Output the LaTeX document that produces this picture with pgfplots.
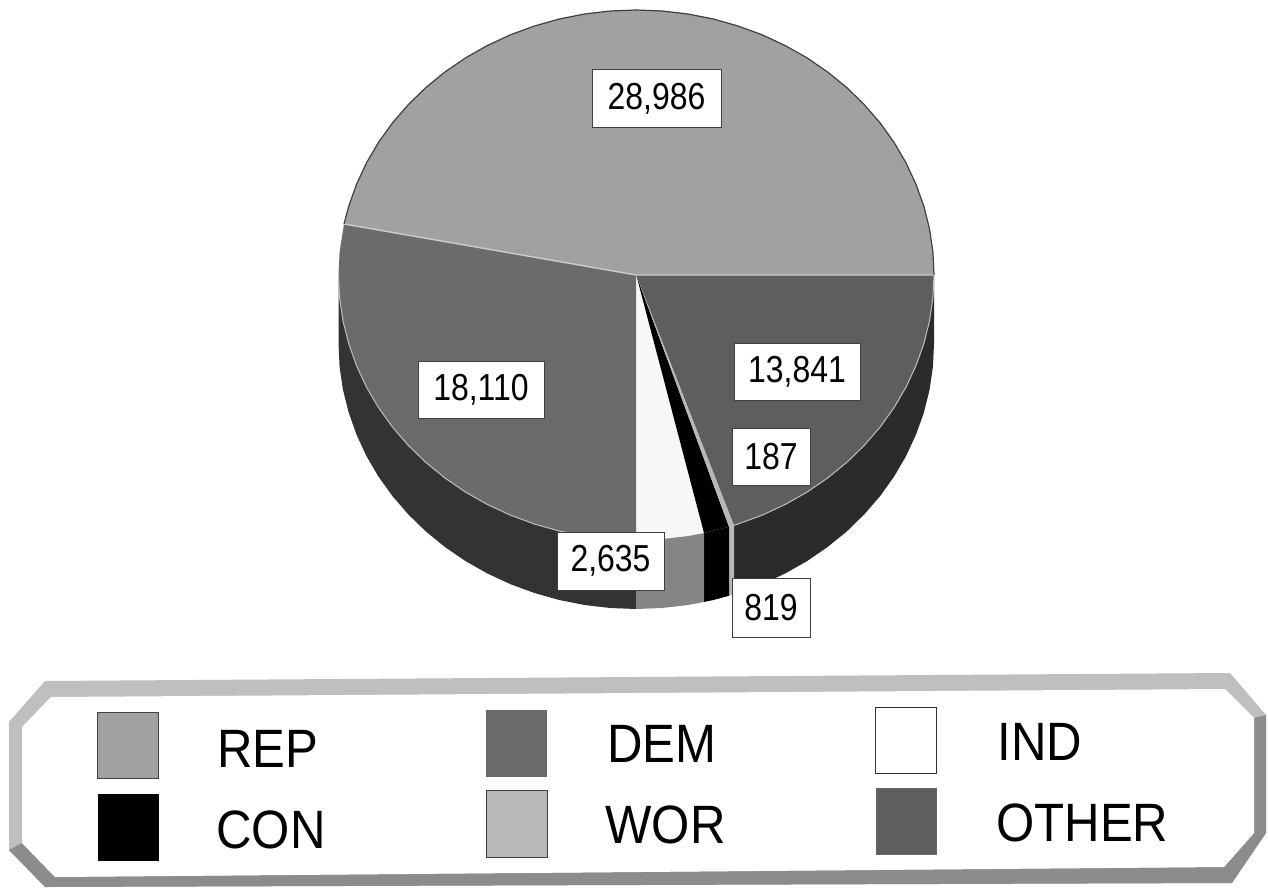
\documentclass[border=0pt]{standalone}
\usepackage{graphicx}
\usepackage{fontspec}
\setmainfont{Liberation Sans}
\usepackage{pgfplots}
\pgfplotsset{compat=1.18}
\definecolor{cREP}{gray}{0.63}
\definecolor{cDEM}{gray}{0.42}
\definecolor{cOTH}{gray}{0.37}
\definecolor{cSD}{gray}{0.20}
\definecolor{cSO}{gray}{0.17}
\definecolor{cIS}{gray}{0.52}
\definecolor{cIND}{gray}{0.97}
\definecolor{cWOR}{gray}{0.72}
\newcommand{\lab}[1]{\scalebox{0.85}[1]{\fontsize{18.8pt}{20pt}\selectfont #1}}
\newcommand{\leg}[1]{\scalebox{0.91}[1]{\fontsize{27pt}{29pt}\selectfont #1}}
\tikzset{vbox/.style={draw=black!75,line width=0.5pt,fill=white,inner sep=0pt,anchor=center}}
\begin{document}
\begin{tikzpicture}
\begin{axis}[
  scale only axis, width=634pt, height=444pt,
  xmin=0, xmax=1268, ymin=0, ymax=888, y dir=reverse,
  hide axis, clip=false, no markers,
]
% side faces
\addplot[fill=cSO,draw=none] coordinates {(636.25,275)(934,275)(934,344)(932.9,367.1)(929.5,390)(923.9,412.6)(916,434.6)(906.1,456)(894.1,476.5)(880.2,496)(864.3,514.3)(846.8,531.4)(827.6,547)(807.1,561.1)(785.1,573.5)(762.1,584.2)(738,593)(734,594.3)(734,525.3)} --cycle;
\addplot[fill=cWOR,draw=none] coordinates {(734,525.3)(734,594.3)(729,595.8)(729,526.8)} --cycle;
\addplot[fill=black,draw=none] coordinates {(729,526.8)(729,595.8)(713.4,600)(704,602)(704,533)} --cycle;
\addplot[fill=cIS,draw=none] coordinates {(704,533)(704,602)(688,605)(662.2,608)(636.25,609)(636.25,540)} --cycle;
\addplot[fill=cSD,draw=none] coordinates {(636.25,540)(636.25,609)(610.2,608)(584.6,605)(559.2,600)(534.4,593)(510.5,584.2)(487.4,573.5)(465.5,561.1)(444.9,547)(425.8,531.4)(408.2,514.3)(392.4,496)(378.4,476.5)(366.4,456)(356.5,434.6)(348.7,412.6)(343,390)(339.6,367.1)(338.5,344)(338.5,275)} --cycle;
% top faces
\addplot[fill=cREP,draw=none] coordinates {(636.25,275)(344,224)(348.7,206.4)(356.5,184.4)(366.4,163)(378.4,142.5)(392.4,123)(408.2,104.7)(425.8,87.6)(444.9,72)(465.5,57.9)(487.4,45.5)(510.5,34.8)(534.4,26)(559.2,19)(584.6,14)(610.2,11)(636.25,10)(662.2,11)(688,14)(713.4,19)(738,26)(762.1,34.8)(785.1,45.5)(807.1,57.9)(827.6,72)(846.8,87.6)(864.3,104.7)(880.2,123)(894.1,142.5)(906.1,163)(916,184.4)(923.9,206.4)(929.5,229)(932.9,251.9)(934,275)} --cycle;
\addplot[fill=cDEM,draw=none] coordinates {(636.25,275)(636.25,540)(610.2,539)(584.6,536)(559.2,531)(534.4,524)(510.5,515.2)(487.4,504.5)(465.5,492.1)(444.9,478)(425.8,462.4)(408.2,445.3)(392.4,427)(378.4,407.5)(366.4,387)(356.5,365.6)(348.7,343.6)(343,321)(339.6,298.1)(338.5,275)(339.6,251.9)(344,224)} --cycle;
\addplot[fill=cOTH,draw=none] coordinates {(636.25,275)(934,275)(932.9,298.1)(929.5,321)(923.9,343.6)(916,365.6)(906.1,387)(894.1,407.5)(880.2,427)(864.3,445.3)(846.8,462.4)(827.6,478)(807.1,492.1)(785.1,504.5)(762.1,515.2)(738,524)(734,525.3)} --cycle;
\addplot[fill=cIND,draw=none] coordinates {(636.25,275)(704,533)(688,536)(662.2,539)(636.25,540)} --cycle;
\addplot[fill=black,draw=none] coordinates {(636.25,275)(729,526.8)(704,533)} --cycle;
\addplot[fill=cWOR,draw=none] coordinates {(636.25,275)(734,525.3)(729,526.8)} --cycle;
% light seams and rim
\addplot[draw=white!80!black,line width=0.7pt] coordinates {(344,224)(636.25,275)(934,275)};
\addplot[draw=black!25,line width=0.5pt] coordinates {(338.5,275)(339.6,298.1)(343,321)(348.7,343.6)(356.5,365.6)(366.4,387)(378.4,407.5)(392.4,427)(408.2,445.3)(425.8,462.4)(444.9,478)(465.5,492.1)(487.4,504.5)(510.5,515.2)(534.4,524)(559.2,531)(584.6,536)(610.2,539)(636.25,540)};
\addplot[draw=black!25,line width=0.5pt] coordinates {(934,275)(932.9,298.1)(929.5,321)(923.9,343.6)(916,365.6)(906.1,387)(894.1,407.5)(880.2,427)(864.3,445.3)(846.8,462.4)(827.6,478)(807.1,492.1)(785.1,504.5)(762.1,515.2)(738,524)(734,525.3)};
\addplot[draw=black!75,line width=0.6pt] coordinates {(344,224)(348.7,206.4)(356.5,184.4)(366.4,163)(378.4,142.5)(392.4,123)(408.2,104.7)(425.8,87.6)(444.9,72)(465.5,57.9)(487.4,45.5)(510.5,34.8)(534.4,26)(559.2,19)(584.6,14)(610.2,11)(636.25,10)(662.2,11)(688,14)(713.4,19)(738,26)(762.1,34.8)(785.1,45.5)(807.1,57.9)(827.6,72)(846.8,87.6)(864.3,104.7)(880.2,123)(894.1,142.5)(906.1,163)(916,184.4)(923.9,206.4)(929.5,229)(932.9,251.9)(934,275)};
% value labels
\node[vbox,minimum width=64.5pt,minimum height=29pt] at (axis cs:656.5,99) {\lab{28,986}};
\node[vbox,minimum width=63pt,minimum height=28.5pt] at (axis cs:481,389.5) {\lab{18,110}};
\node[vbox,minimum width=63pt,minimum height=28.5pt] at (axis cs:797,371.5) {\lab{13,841}};
\node[vbox,minimum width=39pt,minimum height=28.5pt] at (axis cs:771,456.5) {\lab{187}};
\node[vbox,minimum width=53.5pt,minimum height=29pt] at (axis cs:610.5,561) {\lab{2,635}};
\node[vbox,minimum width=39pt,minimum height=29.5pt] at (axis cs:771,607.5) {\lab{819}};
% legend frame
\addplot[fill=black!25,draw=none] coordinates {(45,681)(1230,673)(1266,715)(1266,833)(1232,883)(45,887)(9,850)(9,722)} --cycle;
\addplot[fill=black!45,draw=none] coordinates {(9,850)(22,843)(55,877)(1224,867)(1254,833)(1254,718)(1266,715)(1266,833)(1232,883)(45,887)} --cycle;
\addplot[fill=white,draw=none] coordinates {(51,697)(1225,689)(1254,718)(1254,833)(1224,867)(55,877)(22,843)(22,727)} --cycle;
% legend swatches
\addplot[fill=cREP,draw=black!75,line width=0.5pt] coordinates {(97,712)(158,712)(158,778)(97,778)} --cycle;
\addplot[fill=cDEM,draw=black!60,line width=0.5pt] coordinates {(486.5,710)(546,710)(546,776)(486.5,776)} --cycle;
\addplot[fill=white,draw=black!80,line width=0.5pt] coordinates {(875.5,707)(936,707)(936,773)(875.5,773)} --cycle;
\addplot[fill=black,draw=black,line width=0.5pt] coordinates {(98,794)(158,794)(158,860)(98,860)} --cycle;
\addplot[fill=cWOR,draw=black!75,line width=0.5pt] coordinates {(486.5,790)(547,790)(547,857)(486.5,857)} --cycle;
\addplot[fill=cOTH,draw=black!60,line width=0.5pt] coordinates {(876,788)(936,788)(936,854)(876,854)} --cycle;
% legend text
\node[anchor=base west,inner sep=0pt] at (axis cs:217,767) {\leg{REP}};
\node[anchor=base west,inner sep=0pt] at (axis cs:216,848) {\leg{CON}};
\node[anchor=base west,inner sep=0pt] at (axis cs:607,762) {\leg{DEM}};
\node[anchor=base west,inner sep=0pt] at (axis cs:605,843) {\leg{WOR}};
\node[anchor=base west,inner sep=0pt] at (axis cs:997,760) {\leg{IND}};
\node[anchor=base west,inner sep=0pt] at (axis cs:996,841) {\leg{OTHER}};
\coordinate (bbA) at (axis cs:0,888);
\coordinate (bbB) at (axis cs:1268,0);
\end{axis}
\useasboundingbox (bbA) rectangle (bbB);
\end{tikzpicture}
\end{document}
